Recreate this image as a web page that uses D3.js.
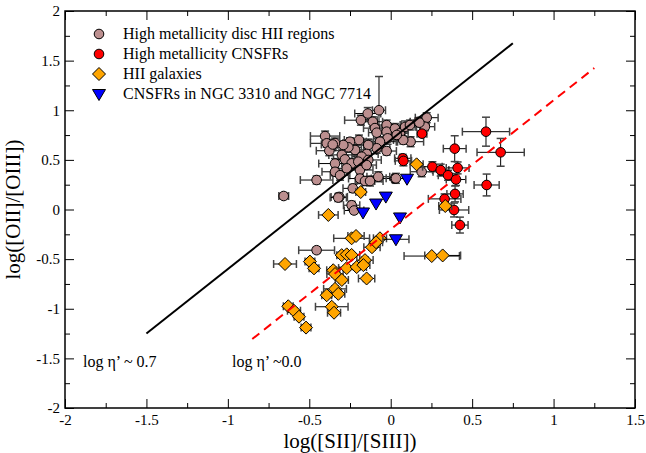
<!DOCTYPE html>
<html>
<head>
<meta charset="utf-8">
<script src="https://cdn.jsdelivr.net/npm/d3@7"></script>
<style>
  body { margin: 0; background: #fff; }
  text { font-family: "Liberation Serif", "DejaVu Serif", serif; }
</style>
</head>
<body>
<div id="chart"></div>
<script>
// [x, y, xerr, yerr]
const discHII = [
  [-0.072, 1.00, 0.04, 0.34], [-0.141, 0.967, 0.08, 0.06], [-0.183, 0.90, 0.10, 0.05],
  [-0.110, 0.884, 0.06, 0.05], [-0.097, 0.82, 0.07, 0.04], [-0.086, 0.774, 0.05, 0.06],
  [-0.025, 0.851, 0.09, 0.05], [-0.025, 0.784, 0.06, 0.04], [0.026, 0.816, 0.08, 0.05],
  [0.057, 0.768, 0.05, 0.04], [0.088, 0.832, 0.07, 0.06], [0.118, 0.851, 0.06, 0.05],
  [0.170, 0.884, 0.05, 0.04], [0.221, 0.925, 0.07, 0.05], [0.210, 0.834, 0.06, 0.04],
  [0.122, 0.683, 0.08, 0.05], [0.077, 0.700, 0.06, 0.04], [0.037, 0.751, 0.05, 0.05],
  [-0.019, 0.717, 0.07, 0.06], [-0.066, 0.683, 0.10, 0.05], [-0.025, 0.589, 0.06, 0.04],
  [-0.086, 0.617, 0.08, 0.05], [-0.138, 0.650, 0.06, 0.06], [-0.195, 0.700, 0.09, 0.05],
  [-0.250, 0.683, 0.10, 0.04], [-0.219, 0.600, 0.07, 0.05], [-0.260, 0.627, 0.08, 0.05],
  [-0.291, 0.650, 0.09, 0.04], [-0.403, 0.740, 0.09, 0.05], [-0.393, 0.667, 0.10, 0.04],
  [-0.377, 0.592, 0.08, 0.05], [-0.342, 0.670, 0.07, 0.05], [-0.300, 0.550, 0.08, 0.05],
  [-0.147, 0.560, 0.07, 0.04], [-0.178, 0.532, 0.06, 0.05], [-0.138, 0.499, 0.08, 0.05],
  [-0.281, 0.505, 0.07, 0.04], [-0.240, 0.465, 0.06, 0.05], [-0.199, 0.482, 0.07, 0.04],
  [-0.342, 0.463, 0.10, 0.05], [-0.342, 0.380, 0.08, 0.04], [-0.311, 0.345, 0.06, 0.05],
  [-0.270, 0.415, 0.07, 0.04], [-0.189, 0.398, 0.08, 0.05], [-0.148, 0.448, 0.06, 0.04],
  [-0.189, 0.312, 0.07, 0.05], [-0.158, 0.287, 0.06, 0.04], [-0.127, 0.287, 0.08, 0.05],
  [-0.076, 0.330, 0.07, 0.05], [0.026, 0.312, 0.08, 0.04], [0.190, 0.380, 0.07, 0.05],
  [-0.233, 0.213, 0.06, 0.04], [-0.316, 0.127, 0.05, 0.04], [-0.455, 0.297, 0.10, 0.04],
  [-0.657, 0.136, 0.03, 0.03], [-0.240, 0.043, 0.05, 0.04], [-0.225, -0.010, 0.06, 0.03],
  [-0.455, -0.410, 0.11, 0.03], [0.176, 0.875, 0.06, 0.04], [0.032, 0.314, 0.06, 0.05],
  [-0.322, 0.120, 0.05, 0.04], [-0.356, 0.655, 0.07, 0.05]
];

const cnsfrs = [
  [0.585, 0.784, 0.145, 0.146], [0.675, 0.576, 0.145, 0.14], [0.589, 0.247, 0.077, 0.11],
  [0.393, 0.613, 0.07, 0.13], [0.192, 0.764, 0.03, 0.03], [0.074, 0.516, 0.05, 0.04],
  [0.078, 0.490, 0.05, 0.05], [0.256, 0.431, 0.06, 0.05], [0.307, 0.397, 0.05, 0.06],
  [0.352, 0.345, 0.06, 0.05], [0.411, 0.419, 0.07, 0.06], [0.401, 0.302, 0.06, 0.06],
  [0.395, 0.157, 0.05, 0.08], [0.331, 0.107, 0.10, 0.05], [0.389, -0.005, 0.09, 0.07],
  [0.425, -0.157, 0.05, 0.08]
];

const hiiGalaxies = [
  [-0.383, -0.055, 0.06, 0.02], [-0.240, -0.290, 0.11, 0.02], [-0.213, -0.267, 0.05, 0.02],
  [-0.649, -0.549, 0.07, 0.02], [-0.496, -0.525, 0.03, 0.03], [-0.471, -0.593, 0.03, 0.03],
  [-0.301, -0.460, 0.03, 0.03], [-0.270, -0.452, 0.04, 0.03], [-0.240, -0.458, 0.05, 0.02],
  [-0.353, -0.612, 0.04, 0.03], [-0.342, -0.650, 0.05, 0.03], [-0.300, -0.710, 0.04, 0.03],
  [-0.270, -0.590, 0.05, 0.02], [-0.209, -0.580, 0.06, 0.03], [-0.158, -0.510, 0.05, 0.03],
  [-0.168, -0.560, 0.04, 0.02], [-0.148, -0.695, 0.05, 0.03], [-0.342, -0.800, 0.07, 0.03],
  [-0.322, -0.850, 0.04, 0.03], [-0.393, -0.864, 0.03, 0.02], [-0.362, -0.980, 0.10, 0.03],
  [-0.348, -1.040, 0.04, 0.02], [-0.629, -0.975, 0.03, 0.02], [-0.594, -1.020, 0.04, 0.03],
  [-0.563, -1.080, 0.03, 0.02], [-0.520, -1.190, 0.03, 0.02], [0.159, 0.455, 0.04, 0.02],
  [-0.184, 0.176, 0.03, 0.02], [0.335, 0.035, 0.04, 0.03], [-0.066, -0.290, 0.04, 0.02],
  [0.252, -0.469, 0.17, 0.02], [0.319, -0.463, 0.11, 0.02], [-0.115, -0.380, 0.05, 0.03],
  [-0.090, -0.330, 0.04, 0.02]
];

const ngcRegions = [
  [0.100, 0.31, 0.00, 0.00], [-0.030, 0.13, 0.00, 0.00], [-0.090, 0.06, 0.00, 0.00],
  [-0.170, -0.03, 0.00, 0.00], [0.057, -0.08, 0.00, 0.00], [0.032, -0.30, 0.08, 0.00]
];

// reference lines: [x1, y1, x2, y2]
const lineEta07 = [-1.5, -1.25, 0.75, 1.675];
const lineEta00 = [-0.85, -1.305, 1.25, 1.425];

const legendLabels = [
  "High metallicity disc HII regions",
  "High metallicity CNSFRs",
  "HII galaxies",
  "CNSFRs in NGC 3310 and NGC 7714"
];

const xMajor = [-2, -1.5, -1, -0.5, 0, 0.5, 1, 1.5];
const yMajor = [-2, -1.5, -1, -0.5, 0, 0.5, 1, 1.5, 2];

const margin = { top: 11, right: 11, bottom: 45, left: 65 };
const width = 646 - margin.left - margin.right;
const height = 453 - margin.top - margin.bottom;

let x = d3.scaleLinear().domain([-2, 1.5]).range([0, width]);
let y = d3.scaleLinear().domain([-2, 2]).range([height, 0]);

let svg = d3.select("#chart")
  .append("svg")
  .attr("width", 646)
  .attr("height", 453)
  .append("g")
  .attr("transform", "translate(" + margin.left + "," + margin.top + ")");

const fmt = d => (d === 0 ? "0" : String(d));
const xMinor = d3.range(-2, 1.51, 0.25).filter(v => !xMajor.includes(v));
const yMinor = d3.range(-2, 2.01, 0.25).filter(v => !yMajor.includes(v));

function axes() {
  const mk = (axis, vals, size, labels, pad) =>
    axis.tickValues(vals).tickSize(size).tickPadding(pad)
      .tickFormat(labels ? fmt : "");

  let gb = svg.append("g").attr("transform", "translate(0," + height + ")");
  gb.call(mk(d3.axisBottom(x), xMajor, -9, true, 6));
  gb.append("g").call(mk(d3.axisBottom(x), xMinor, -5, false, 0));

  let gt = svg.append("g");
  gt.call(mk(d3.axisTop(x), xMajor, -9, false, 0));
  gt.append("g").call(mk(d3.axisTop(x), xMinor, -5, false, 0));

  let gl = svg.append("g");
  gl.call(mk(d3.axisLeft(y), yMajor, -9, true, 5));
  gl.append("g").call(mk(d3.axisLeft(y), yMinor, -5, false, 0));

  let gr = svg.append("g").attr("transform", "translate(" + width + ",0)");
  gr.call(mk(d3.axisRight(y), yMajor, -9, false, 0));
  gr.append("g").call(mk(d3.axisRight(y), yMinor, -5, false, 0));

  svg.selectAll(".domain").remove();
  svg.selectAll(".tick line").attr("stroke", "#000").attr("stroke-width", 1);
  svg.selectAll(".tick text")
    .style("font-family", "Liberation Serif, serif")
    .style("font-size", "15px")
    .attr("fill", "#000");

  svg.append("rect")
    .attr("width", width).attr("height", height)
    .attr("fill", "none").attr("stroke", "#000").attr("stroke-width", 1.5);
}

function errorBars(data) {
  let g = svg.append("g").attr("stroke", "#000").attr("stroke-width", 1);
  const cap = 4;
  data.forEach(d => {
    let cx = x(d[0]), cy = y(d[1]);
    if (d[2] > 0) {
      let x1 = x(d[0] - d[2]), x2 = x(d[0] + d[2]);
      g.append("line").attr("x1", x1).attr("x2", x2).attr("y1", cy).attr("y2", cy);
      [x1, x2].forEach(v => g.append("line").attr("stroke", "#444").attr("stroke-width", 1.5)
        .attr("x1", v).attr("x2", v).attr("y1", cy - cap).attr("y2", cy + cap));
    }
    if (d[3] > 0) {
      let y1 = y(d[1] - d[3]), y2 = y(d[1] + d[3]);
      g.append("line").attr("x1", cx).attr("x2", cx).attr("y1", y1).attr("y2", y2);
      [y1, y2].forEach(v => g.append("line").attr("stroke", "#444").attr("stroke-width", 1.5)
        .attr("x1", cx - cap).attr("x2", cx + cap).attr("y1", v).attr("y2", v));
    }
  });
}

const symbols = {
  circle: d3.symbol().type(d3.symbolCircle).size(Math.PI * 4.8 * 4.8),
  diamond: "M0,-6.5L6.5,0L0,6.5L-6.5,0Z",
  triangle: "M-6.5,-4.5L6.5,-4.5L0,6.5Z"
};

function markers(data, shape, color) {
  svg.append("g").selectAll("path")
    .data(data).enter()
    .append("path")
    .attr("d", typeof symbols[shape] === "function" ? symbols[shape]() : symbols[shape])
    .attr("transform", d => "translate(" + x(d[0]) + "," + y(d[1]) + ")")
    .attr("fill", color)
    .attr("stroke", "#000")
    .attr("stroke-width", 1);
}

function drawLine(l, color, dash) {
  svg.append("line")
    .attr("x1", x(l[0])).attr("y1", y(l[1]))
    .attr("x2", x(l[2])).attr("y2", y(l[3]))
    .attr("stroke", color)
    .attr("stroke-width", 2)
    .attr("stroke-dasharray", dash);
}

const sets = [
  { data: discHII, shape: "circle", color: "#bc8f8f" },
  { data: cnsfrs, shape: "circle", color: "#ff0000" },
  { data: hiiGalaxies, shape: "diamond", color: "#ffa500" },
  { data: ngcRegions, shape: "triangle", color: "#0000ff" }
];

axes();

sets.forEach(s => {
  errorBars(s.data);
  markers(s.data, s.shape, s.color);
});

drawLine(lineEta07, "#000", null);
drawLine(lineEta00, "#ff0000", "9,6");

// legend
let legend = svg.append("g").attr("transform", "translate(34,23)");
sets.forEach((s, i) => {
  let row = legend.append("g").attr("transform", "translate(0," + i * 20 + ")");
  row.append("path")
    .attr("d", typeof symbols[s.shape] === "function" ? symbols[s.shape]() : symbols[s.shape])
    .attr("fill", s.color).attr("stroke", "#000").attr("stroke-width", 1);
  row.append("text")
    .attr("x", 24).attr("dy", "0.33em")
    .style("font-size", "16px")
    .text(legendLabels[i]);
});

// annotations
svg.append("text").attr("x", 18).attr("y", 356).style("font-size", "16px").text("log η’ ~ 0.7");
svg.append("text").attr("x", 167).attr("y", 356).style("font-size", "16px").text("log η’ ~0.0");

// axis titles
svg.append("text")
  .attr("x", width / 2).attr("y", height + 40)
  .attr("text-anchor", "middle")
  .style("font-size", "21px")
  .text("log([SII]/[SIII])");

svg.append("text")
  .attr("transform", "translate(" + (-45) + "," + (height / 2) + ") rotate(-90)")
  .attr("text-anchor", "middle")
  .style("font-size", "21px")
  .text("log([OII]/[OIII])");
</script>
</body>
</html>
